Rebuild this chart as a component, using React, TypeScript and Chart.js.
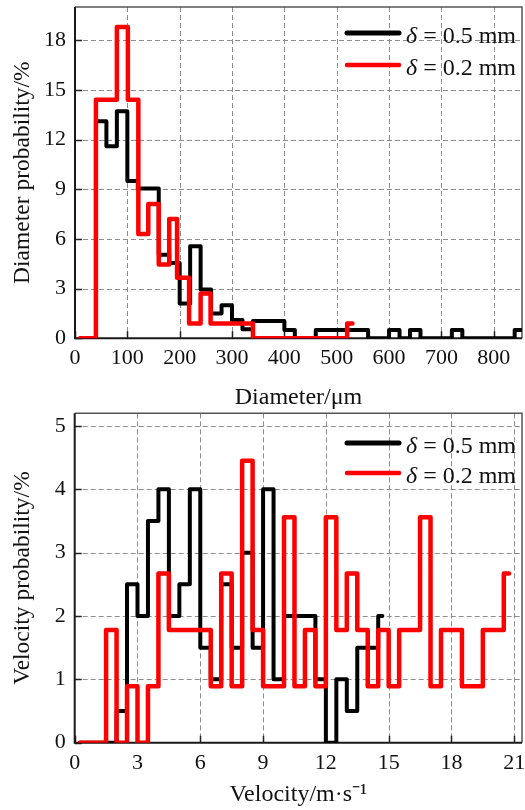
import React, { useEffect, useRef } from 'react';
import { Chart, registerables } from 'chart.js';

Chart.register(...registerables);

const FONT = "'Liberation Serif', 'Times New Roman', serif";

// ---------- Diameter chart data ----------
const diamXTicks = [0, 100, 200, 300, 400, 500, 600, 700, 800];
const diamYTicks = [0, 3, 6, 9, 12, 15, 18];
// left edge of each bin (µm) and value (%) for that bin
const diamBlackX = [10, 40, 60, 80, 100, 120, 160, 180, 200, 220, 240, 260, 280, 300, 320, 340, 400, 420, 460, 560, 600, 620, 640, 660, 720, 740, 840, 852];
const diamBlackY = [0, 13.1, 11.6, 13.7, 9.5, 9.05, 5.05, 4.55, 2.1, 5.55, 2.95, 1.5, 2.0, 1.1, 0.55, 1.05, 0.5, 0, 0.5, 0, 0.5, 0, 0.5, 0, 0.5, 0, 0.5, 0.5];
const diamRedX = [10, 40, 80, 101, 121, 140, 160, 180, 195, 218, 240, 259, 340, 520, 530];
const diamRedY = [0, 14.4, 18.8, 14.4, 6.3, 8.1, 4.45, 7.2, 3.65, 0.9, 2.7, 0.9, 0, 0.9, 0.9];

// ---------- Velocity chart data ----------
const velXTicks = [0, 3, 6, 9, 12, 15, 18, 21];
const velYTicks = [0, 1, 2, 3, 4, 5];
const velBlackX = [0.25, 2.0, 2.5, 3.0, 3.5, 4.0, 4.5, 5.0, 5.5, 6.0, 6.5, 7.0, 7.5, 8.0, 8.5, 9.0, 9.5, 10.0, 11.5, 12.0, 12.5, 13.0, 13.5, 14.5, 14.7];
const velBlackY = [0, 0.5, 2.5, 2.0, 3.5, 4.0, 2.0, 2.5, 4.0, 1.5, 1.0, 2.5, 1.5, 3.0, 1.5, 4.0, 1.0, 2.0, 1.0, 0, 1.0, 0.5, 1.5, 2.0, 2.0];
const velRedX = [0.25, 1.5, 2.0, 2.5, 3.0, 3.5, 4.0, 4.5, 6.5, 7.0, 7.5, 8.0, 8.5, 9.0, 10.0, 10.5, 11.0, 11.5, 12.0, 12.5, 13.0, 13.5, 14.0, 14.5, 15.0, 15.5, 16.5, 17.0, 17.5, 18.5, 19.5, 20.5, 20.75];
const velRedY = [0, 1.78, 0, 0.89, 0, 0.89, 2.67, 1.78, 0.89, 2.67, 0.89, 4.45, 1.78, 0.89, 3.56, 0.89, 1.78, 0.89, 3.56, 1.78, 2.67, 1.78, 0.89, 1.78, 0.89, 1.78, 3.56, 0.89, 1.78, 0.89, 1.78, 2.67, 2.67];

const legendLabels = ['0.5 mm', '0.2 mm'];
const seriesColors = ['#000000', '#ff0000'];

function toPoints(xs: number[], ys: number[]) {
  return xs.map((x, i) => ({ x, y: ys[i] }));
}

const decorPlugin = {
  id: 'decor',
  beforeDatasetsDraw(chart: any) {
    const { ctx, chartArea: a, scales } = chart;
    const xs = scales.x;
    const ys = scales.y;
    ctx.save();
    // dashed grid
    ctx.strokeStyle = '#8c8c8c';
    ctx.lineWidth = 1;
    ctx.setLineDash([5, 3]);
    xs.ticks.forEach((t: any) => {
      if (t.value === 0) return;
      const px = Math.round(xs.getPixelForValue(t.value)) + 0.5;
      ctx.beginPath();
      ctx.moveTo(px, a.top);
      ctx.lineTo(px, a.bottom);
      ctx.stroke();
    });
    ys.ticks.forEach((t: any) => {
      if (t.value === 0) return;
      const py = Math.round(ys.getPixelForValue(t.value)) + 0.5;
      ctx.beginPath();
      ctx.moveTo(a.left, py);
      ctx.lineTo(a.right, py);
      ctx.stroke();
    });
    ctx.setLineDash([]);
    // inward ticks
    ctx.strokeStyle = '#222';
    ctx.lineWidth = 1.5;
    xs.ticks.forEach((t: any) => {
      const px = Math.round(xs.getPixelForValue(t.value)) + 0.5;
      ctx.beginPath();
      ctx.moveTo(px, a.bottom);
      ctx.lineTo(px, a.bottom - 7);
      ctx.stroke();
    });
    ys.ticks.forEach((t: any) => {
      const py = Math.round(ys.getPixelForValue(t.value)) + 0.5;
      ctx.beginPath();
      ctx.moveTo(a.left, py);
      ctx.lineTo(a.left + 7, py);
      ctx.stroke();
    });
    // frame
    ctx.strokeStyle = '#555';
    ctx.lineWidth = 1.5;
    ctx.beginPath();
    ctx.moveTo(a.left, a.top);
    ctx.lineTo(a.right, a.top);
    ctx.lineTo(a.right, a.bottom);
    ctx.stroke();
    ctx.strokeStyle = '#1a1a1a';
    ctx.lineWidth = 2;
    ctx.beginPath();
    ctx.moveTo(a.left, a.top);
    ctx.lineTo(a.left, a.bottom);
    ctx.lineTo(a.right, a.bottom);
    ctx.stroke();
    ctx.restore();
  },
  afterDraw(chart: any, _args: any, opts: any) {
    const { ctx } = chart;
    const rows: number[] = opts.rows || [];
    ctx.save();
    rows.forEach((ry, i) => {
      ctx.strokeStyle = seriesColors[i];
      ctx.lineWidth = i === 0 ? 5 : 4.5;
      ctx.lineCap = 'round';
      ctx.beginPath();
      ctx.moveTo(opts.lineX1, ry);
      ctx.lineTo(opts.lineX2, ry);
      ctx.stroke();
      ctx.fillStyle = '#111';
      ctx.textBaseline = 'alphabetic';
      ctx.textAlign = 'left';
      ctx.font = `italic ${opts.fontSize}px ${FONT}`;
      const base = ry + 9.5;
      ctx.fillText('δ', opts.textX, base);
      const w = ctx.measureText('δ').width;
      ctx.font = `${opts.fontSize}px ${FONT}`;
      ctx.fillText(' = ' + legendLabels[i], opts.textX + w, base);
    });
    ctx.restore();
  },
};

function zeroPad(scale: any) {
  scale.paddingTop = 0;
  scale.paddingBottom = 0;
  scale.paddingLeft = 0;
  scale.paddingRight = 0;
}

function buildConfig(p: any): any {
  return {
    type: 'line',
    data: {
      datasets: [
        {
          label: 'δ = ' + legendLabels[0],
          data: toPoints(p.bx, p.by),
          borderColor: seriesColors[0],
          borderWidth: 4,
          stepped: 'before',
          pointRadius: 0,
          borderJoinStyle: 'round',
          borderCapStyle: 'round',
          order: 1,
          fill: false,
        },
        {
          label: 'δ = ' + legendLabels[1],
          data: toPoints(p.rx, p.ry),
          borderColor: seriesColors[1],
          borderWidth: 4.5,
          stepped: 'before',
          pointRadius: 0,
          borderJoinStyle: 'round',
          borderCapStyle: 'round',
          order: 0,
          fill: false,
        },
      ],
    },
    options: {
      responsive: false,
      animation: false,
      devicePixelRatio: 1,
      layout: { padding: { top: p.padTop, right: 3, left: 0, bottom: 0 } },
      plugins: {
        legend: { display: false },
        tooltip: { enabled: false },
        decor: p.legend,
      },
      scales: {
        x: {
          type: 'linear',
          min: 0,
          max: p.xMax,
          grid: { display: false, drawTicks: false },
          border: { display: false },
          afterBuildTicks: (scale: any) => {
            scale.ticks = p.xTicks.map((v: number) => ({ value: v }));
          },
          afterFit: (scale: any) => {
            scale.height = p.xHeight;
            zeroPad(scale);
          },
          ticks: {
            color: '#111',
            padding: p.xTickPad,
            maxRotation: 0,
            autoSkip: false,
            font: { family: FONT, size: 22 },
          },
          title: {
            display: true,
            text: p.xTitle,
            color: '#111',
            padding: { top: 0, bottom: p.xTitlePad },
            font: { family: FONT, size: 24 },
          },
        },
        y: {
          type: 'linear',
          min: 0,
          max: p.yMax,
          grid: { display: false, drawTicks: false },
          border: { display: false },
          afterBuildTicks: (scale: any) => {
            scale.ticks = p.yTicks.map((v: number) => ({ value: v }));
          },
          afterFit: (scale: any) => {
            scale.width = p.yWidth;
            zeroPad(scale);
          },
          ticks: {
            color: '#111',
            padding: 9,
            autoSkip: false,
            font: { family: FONT, size: 22 },
          },
          title: {
            display: true,
            text: p.yTitle,
            color: '#111',
            padding: { top: 9, bottom: 0 },
            font: { family: FONT, size: 23.5 },
          },
        },
      },
    },
    plugins: [decorPlugin],
  };
}

export default function App() {
  const ref1 = useRef<HTMLCanvasElement | null>(null);
  const ref2 = useRef<HTMLCanvasElement | null>(null);

  useEffect(() => {
    const c1 = new Chart(
      ref1.current as HTMLCanvasElement,
      buildConfig({
        bx: diamBlackX, by: diamBlackY, rx: diamRedX, ry: diamRedY,
        xTicks: diamXTicks, yTicks: diamYTicks,
        xMax: 854, yMax: 20,
        padTop: 7, xHeight: 73.7, yWidth: 75,
        xTickPad: 6.5, xTitlePad: 0,
        xTitle: 'Diameter/μm', yTitle: 'Diameter probability/%',
        legend: { rows: [33, 65], lineX1: 347, lineX2: 399, textX: 406, fontSize: 24 },
      })
    );
    const c2 = new Chart(
      ref2.current as HTMLCanvasElement,
      buildConfig({
        bx: velBlackX, by: velBlackY, rx: velRedX, ry: velRedY,
        xTicks: velXTicks, yTicks: velYTicks,
        xMax: 21.37, yMax: 5.2,
        padTop: 13.3, xHeight: 67.3, yWidth: 74.7,
        xTickPad: 7, xTitlePad: 1.2,
        xTitle: 'Velocity/m·s⁻¹', yTitle: 'Velocity probability/%',
        legend: { rows: [43, 73], lineX1: 347, lineX2: 399, textX: 406, fontSize: 24 },
      })
    );
    return () => {
      c1.destroy();
      c2.destroy();
    };
  }, []);

  return (
    <div style={{ position: 'absolute', left: 0, top: 0, width: 525, height: 810, background: '#fff', overflow: 'hidden' }}>
      <canvas ref={ref1} width={525} height={412} style={{ position: 'absolute', left: 0, top: 0 }} />
      <canvas ref={ref2} width={525} height={410} style={{ position: 'absolute', left: 0, top: 400 }} />
    </div>
  );
}
